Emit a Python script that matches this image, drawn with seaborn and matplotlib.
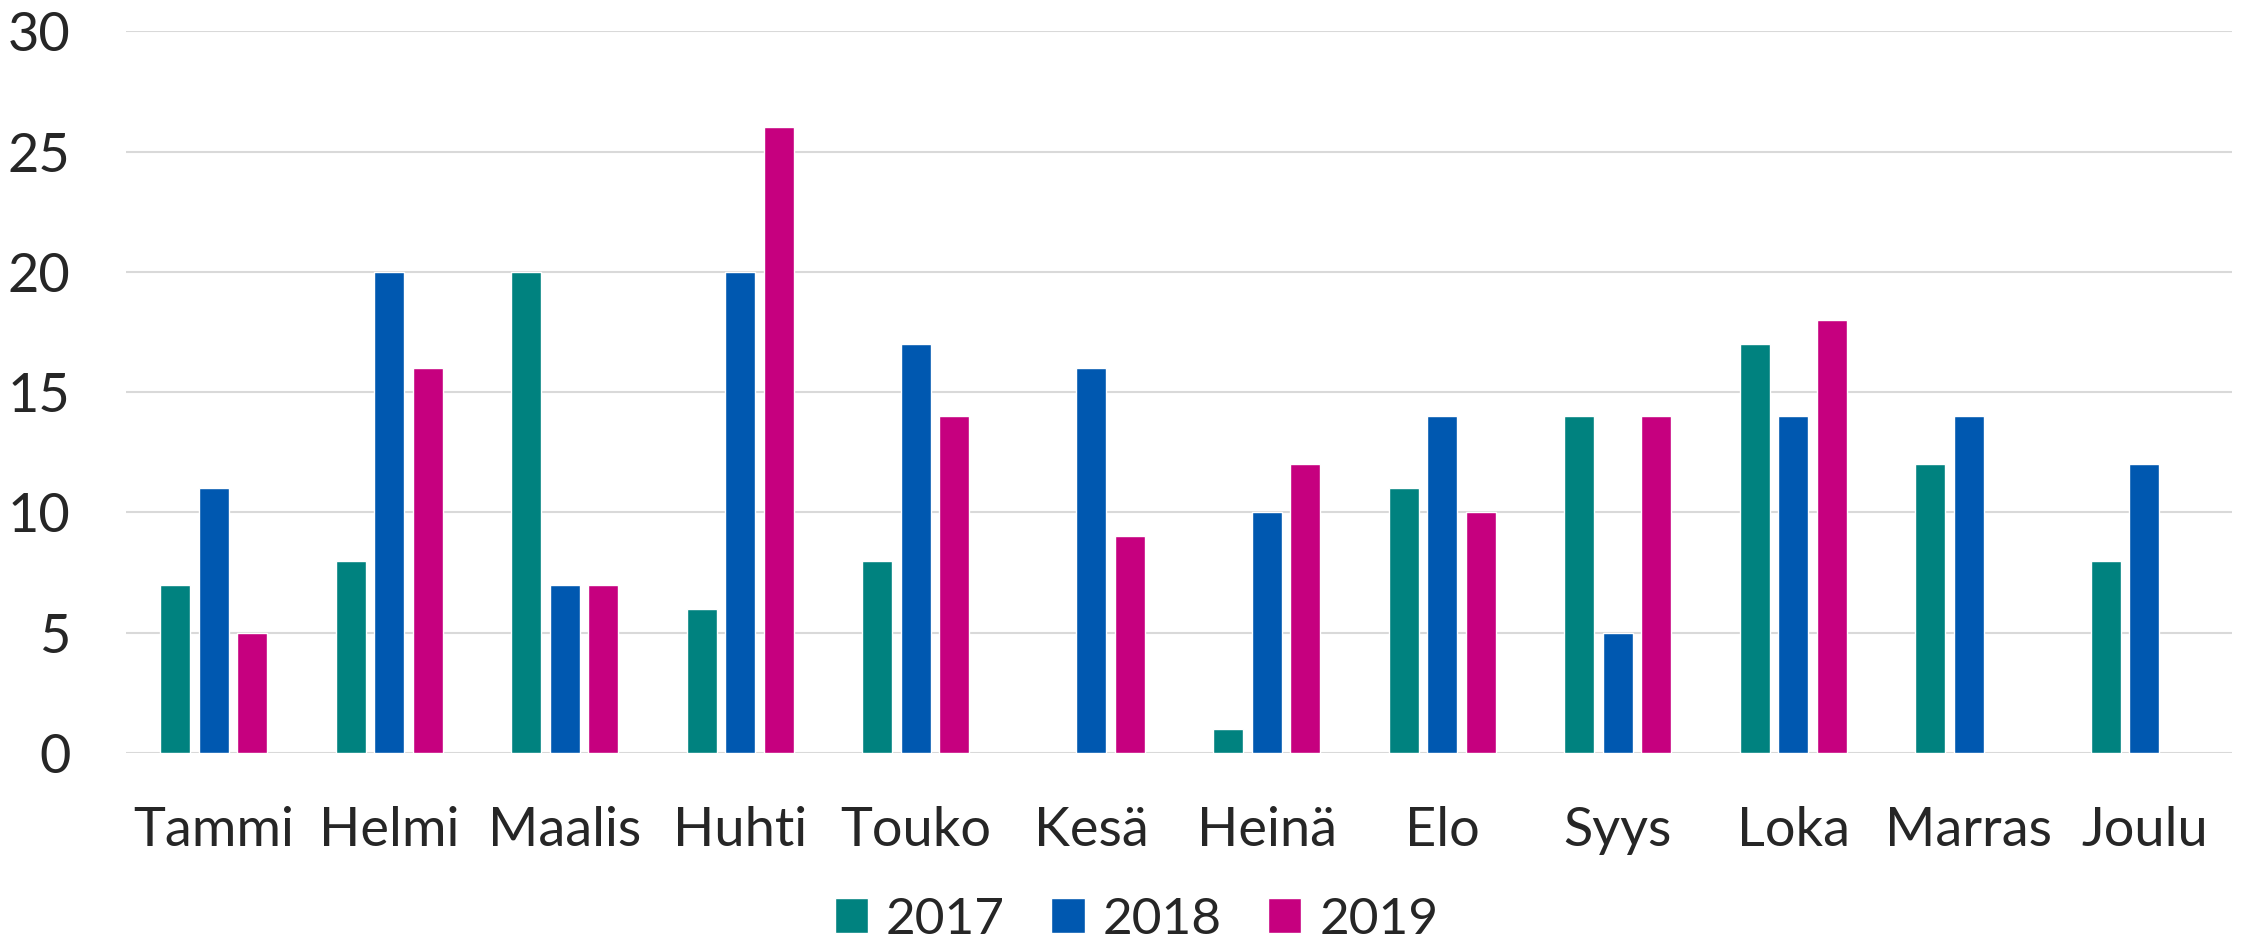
import pandas as pd
import numpy as np
import matplotlib
matplotlib.use('Agg')
import matplotlib.pyplot as plt
import seaborn as sns

months = ['Tammi', 'Helmi', 'Maalis', 'Huhti', 'Touko', 'Kesä',
          'Heinä', 'Elo', 'Syys', 'Loka', 'Marras', 'Joulu']
years = ['2017', '2018', '2019']
v2017 = [7, 8, 20, 6, 8, np.nan, 1, 11, 14, 17, 12, 8]
v2018 = [11, 20, 7, 20, 17, 16, 10, 14, 5, 14, 14, 12]
v2019 = [5, 16, 7, 26, 14, 9, 12, 10, 14, 18, np.nan, np.nan]
colors = ['#00827F', '#0058B0', '#C6007F']

df = pd.DataFrame({
    'month': months * 3,
    'year': [y for y in years for _ in months],
    'value': v2017 + v2018 + v2019,
}).dropna()

sns.set_theme(style='white')
plt.rcParams['font.family'] = ['Lato', 'DejaVu Sans']
text_col = '#262626'

fig = plt.figure(figsize=(22.46, 9.46), dpi=100)
ax = fig.add_axes([0.0561, 0.204, 0.9377, 0.763])

sns.barplot(data=df, x='month', y='value', hue='year', order=months,
            hue_order=years, palette=colors, width=0.66, gap=0.22,
            errorbar=None, ax=ax, saturation=1)

ax.set_ylim(0, 30)
ax.set_xlim(-0.5, len(months) - 0.5)
ax.set_yticks(range(0, 31, 5))
ax.yaxis.grid(True, color='#D9D9D9', linewidth=1.5)
ax.set_axisbelow(True)
for s in ax.spines.values():
    s.set_visible(False)
ax.set_xlabel('')
ax.set_ylabel('')
ax.tick_params(axis='x', length=0, pad=38, labelsize=39, labelcolor=text_col)
ax.tick_params(axis='y', length=0, pad=40, labelsize=39, labelcolor=text_col)

handles, labels = ax.get_legend_handles_labels()
ax.legend_.remove()
fig.legend(handles, labels, loc='center', bbox_to_anchor=(0.506, 0.028),
           ncol=3, frameon=False, fontsize=37, labelcolor=text_col,
           handlelength=0.65, handleheight=0.65, handletextpad=0.35,
           columnspacing=0.9)

plt.savefig('out.png', dpi=100)
plt.close()
